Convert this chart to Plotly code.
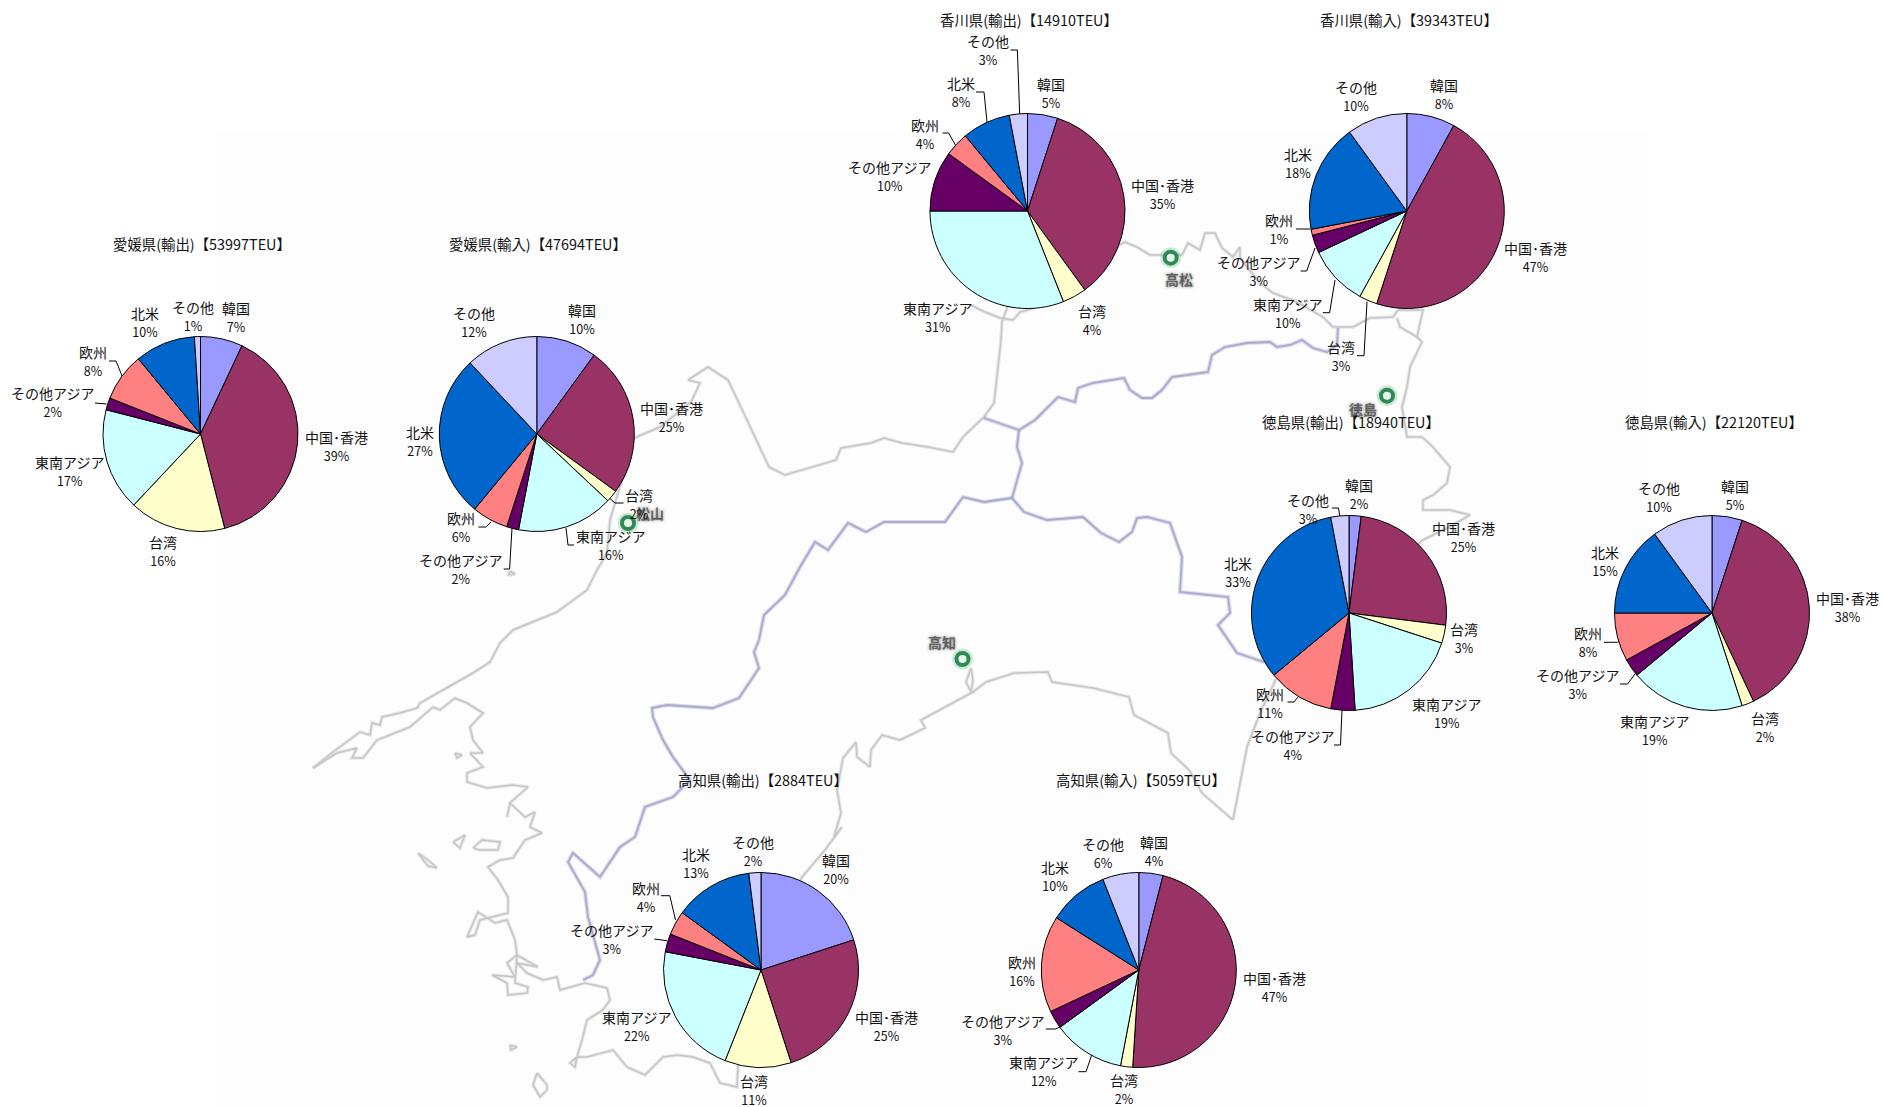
import plotly.graph_objects as go

W, H = 1885, 1107

# 主要貿易相手地域（時計回り、12時の位置から）
categories = ["韓国", "中国･香港", "台湾", "東南アジア", "その他アジア", "欧州", "北米", "その他"]
slice_colors = ["#9999FF", "#993366", "#FFFFCC", "#CCFFFF", "#660066", "#FF8080", "#0066CC", "#CCCCFF"]

# 構成比（%）
ehime_export = [7, 39, 16, 17, 2, 8, 10, 1]
ehime_import = [10, 25, 2, 16, 2, 6, 27, 12]
kagawa_export = [5, 35, 4, 31, 10, 4, 8, 3]
kagawa_import = [8, 47, 3, 10, 3, 1, 18, 10]
tokushima_export = [2, 25, 3, 19, 4, 11, 33, 3]
tokushima_import = [5, 38, 2, 19, 3, 8, 15, 10]
kochi_export = [20, 25, 11, 22, 3, 4, 13, 2]
kochi_import = [4, 47, 2, 12, 3, 16, 10, 6]

PIE_RADIUS = 97.5

# 円グラフごとの配置：表題、中心、各ラベルの中心、引出し線
panels = [
    dict(title="愛媛県(輸出)【53997TEU】", values=ehime_export, center=(200.5, 434), title_pos=(202.2, 243),
         labels=[(235.5, 316.5), (336.5, 446), (163, 551), (69, 471), (52, 402), (92.7, 361), (145, 322), (193, 316)],
         leaders=[[(109, 361), (116, 361), (122.5, 377)], [(95, 403), (106.5, 404)]]),
    dict(title="愛媛県(輸入)【47694TEU】", values=ehime_import, center=(536.8, 434), title_pos=(538.3, 243),
         labels=[(581.7, 319), (671.7, 417), (639, 504), (610.6, 545), (460.5, 569), (461, 527), (419.6, 441), (473.8, 322)],
         leaders=[[(623.5, 503), (615, 503), (607, 496)], [(574, 545), (568, 545), (566, 528)],
                  [(503.7, 569), (509.6, 569), (512, 528)], [(478.4, 527), (485.8, 527), (491, 522)]]),
    dict(title="香川県(輸出)【14910TEU】", values=kagawa_export, center=(1027.5, 211), title_pos=(1029.1, 19.7),
         labels=[(1050.5, 93), (1162.5, 194), (1092, 320), (937.5, 317), (889, 176), (925, 134), (960.5, 92), (987.6, 50)],
         leaders=[[(942.6, 133), (948.6, 133), (955.4, 145)], [(976, 92), (984, 92), (987, 122)],
                  [(1010.5, 50), (1017.4, 50), (1019.7, 115)]]),
    dict(title="香川県(輸入)【39343TEU】", values=kagawa_import, center=(1406.8, 211), title_pos=(1408.5, 19.7),
         labels=[(1444.4, 94), (1535, 257), (1341, 356), (1287.4, 313), (1258.5, 271), (1279, 229), (1298.4, 163), (1355.8, 96)],
         leaders=[[(1296, 229), (1310, 229)], [(1300.7, 271), (1306.7, 271), (1315, 248)],
                  [(1322.8, 312.7), (1329.6, 312.7), (1335, 280)], [(1357, 355.7), (1364, 355.7), (1367, 301.7)]]),
    dict(title="徳島県(輸出)【18940TEU】", values=tokushima_export, center=(1349, 613), title_pos=(1350.5, 421.7),
         labels=[(1358.5, 494), (1463.5, 537), (1463.5, 638), (1446, 713), (1292, 745), (1270, 703), (1238, 572), (1307.5, 509)],
         leaders=[[(1287.5, 702), (1294, 702), (1298, 697)], [(1334, 745), (1340.5, 745), (1342, 710)],
                  [(1332, 508), (1338.5, 508), (1340, 518)]]),
    dict(title="徳島県(輸入)【22120TEU】", values=tokushima_import, center=(1712, 613), title_pos=(1714.4, 421.7),
         labels=[(1735, 494.7), (1847.5, 607), (1765, 727), (1654.5, 730), (1577.5, 684), (1587.5, 642), (1605, 561), (1658.5, 497)],
         leaders=[[(1604, 642.3), (1617.5, 642.3), (1622, 638)], [(1620, 684), (1627.5, 684), (1635, 674)]]),
    dict(title="高知県(輸出)【2884TEU】", values=kochi_export, center=(761, 970), title_pos=(763, 779),
         labels=[(835.7, 869), (886.8, 1026), (753.6, 1089.5), (636, 1026), (611.8, 939), (645.7, 897), (695.6, 863), (752.5, 851)],
         leaders=[[(661, 895.7), (669.8, 895.7), (675.5, 920)], [(654.3, 939), (667, 940.7)]]),
    dict(title="高知県(輸入)【5059TEU】", values=kochi_import, center=(1138.8, 970), title_pos=(1140.5, 779),
         labels=[(1153.7, 851), (1274.5, 987), (1124, 1089), (1043.5, 1071), (1002.8, 1030), (1021.7, 970.7), (1055, 876), (1102.6, 853)],
         leaders=[[(1045.8, 1029), (1055.6, 1029), (1062, 1026)], [(1078.5, 1071.7), (1086, 1071.7), (1091.7, 1055)]]),
]

# 四国の海岸線
north_coast = [
    (313, 768), (333, 752), (360, 732), (370, 735), (372, 723), (380, 725), (382, 717), (400, 713), (417, 708),
    (420, 703), (443, 690), (473, 673), (490, 662), (500, 643), (513, 630), (557, 612), (587, 590), (597, 570),
    (607, 553), (610, 520), (634, 438), (660, 427), (691, 402), (700, 383), (688, 380), (708, 367), (728, 380),
    (741, 407), (769, 467), (785, 475), (836, 460), (841, 448), (871, 443), (884, 438), (902, 443), (928, 447),
    (953, 452), (963, 437), (984, 417), (994, 403), (1001, 340), (1002, 322), (1010, 300), (1125, 242), (1137, 247),
    (1150, 255), (1162, 255), (1182, 255), (1188, 243), (1200, 250), (1205, 233), (1215, 233), (1222, 248),
    (1233, 257), (1240, 247), (1240, 257), (1247, 267), (1260, 283), (1273, 293), (1297, 302), (1323, 317),
    (1333, 327), (1353, 327), (1370, 318), (1393, 317), (1398, 310), (1423, 310), (1417, 337), (1400, 327), (1397, 318),
]
sanuki_inlet = [(971, 305), (985, 312), (1000, 318), (1013, 320), (1020, 312), (1035, 308)]
east_coast = [
    (1417, 337), (1422, 342), (1410, 367), (1407, 387), (1402, 407), (1407, 437), (1422, 437), (1433, 447),
    (1450, 467), (1447, 483), (1433, 495), (1423, 500), (1423, 510), (1450, 510), (1470, 515), (1453, 525),
    (1423, 540), (1300, 640), (1277, 677), (1260, 713), (1247, 747), (1233, 820),
]
south_coast = [
    (1233, 820), (1202, 793), (1189, 770), (1171, 753), (1168, 733), (1134, 715), (1129, 697), (1093, 688),
    (1052, 682), (1048, 672), (1014, 673), (986, 682), (973, 692), (921, 720), (925, 728), (900, 740), (882, 735),
    (871, 750), (870, 767), (857, 757), (856, 742), (843, 758), (837, 790), (841, 813), (834, 837), (842, 827),
    (825, 850), (802, 877), (760, 960), (738, 1067), (737, 1087), (720, 1083), (710, 1063), (693, 1057), (677, 1055),
    (663, 1057), (645, 1075), (627, 1067), (613, 1050), (587, 1057), (577, 1057), (575, 1067), (570, 1063),
    (577, 1057), (582, 1040), (587, 1020), (603, 1010), (610, 1000), (607, 988), (585, 983), (560, 990), (557, 977),
    (543, 980), (527, 973), (517, 963), (538, 967), (517, 955), (507, 963), (515, 977), (492, 975), (507, 983),
    (508, 995), (527, 993), (528, 987), (515, 983), (517, 955), (515, 940), (507, 920), (495, 923), (478, 912),
    (467, 937), (475, 935), (480, 920), (508, 913), (508, 897), (498, 880), (488, 867), (500, 860), (513, 858),
    (525, 840), (542, 833), (530, 827), (535, 812), (525, 817), (510, 803), (507, 817), (510, 803), (528, 787),
    (513, 785), (487, 788), (467, 782), (467, 773), (483, 767), (470, 753), (483, 753), (473, 740), (470, 727),
    (483, 713), (467, 703), (455, 698), (440, 710), (433, 707), (410, 727), (377, 740), (363, 758), (352, 758),
    (357, 748), (337, 753), (313, 768),
]
kochi_river = [(971, 668), (966, 682), (971, 692), (973, 680), (971, 668)]
island_outlines = [
    [(537, 1073), (547, 1085), (547, 1090), (540, 1097), (533, 1085), (537, 1073)],
    [(418, 853), (428, 860), (437, 868), (428, 866), (418, 853)],
    [(453, 842), (465, 835), (460, 848), (453, 842)],
    [(473, 848), (482, 840), (500, 842), (498, 850), (480, 850), (473, 848)],
    [(510, 571), (515, 574), (508, 575), (510, 571)],
    [(455, 753), (462, 755), (457, 758), (455, 753)],
    [(510, 1045), (517, 1047), (511, 1050), (510, 1045)],
]

# 県境
border_north = [
    (1338, 328), (1337, 345), (1327, 352), (1313, 348), (1302, 340), (1290, 345), (1277, 347), (1270, 342),
    (1247, 343), (1225, 347), (1212, 355), (1208, 372), (1187, 375), (1172, 377), (1162, 390), (1152, 398),
    (1142, 398), (1130, 390), (1124, 378), (1093, 383), (1078, 388), (1075, 402), (1058, 397), (1035, 420),
    (1019, 430), (1002, 424), (984, 418),
]
border_center = [(1019, 430), (1017, 447), (1022, 463), (1017, 480), (1012, 498)]
border_east = [
    (1012, 498), (1024, 512), (1047, 520), (1083, 517), (1101, 533), (1119, 542), (1132, 532), (1137, 518),
    (1147, 517), (1170, 523), (1182, 557), (1180, 592), (1228, 597), (1230, 613), (1218, 625), (1237, 653), (1264, 662),
]
border_west = [
    (1012, 498), (984, 502), (963, 497), (945, 522), (902, 522), (884, 522), (866, 532), (848, 523), (828, 550),
    (815, 542), (800, 567), (785, 595), (764, 615), (759, 640), (754, 652), (759, 668), (739, 698), (713, 708),
    (667, 705), (652, 708), (653, 717), (663, 740), (673, 757), (690, 780), (673, 797), (645, 807), (635, 837),
    (620, 847), (600, 877), (573, 853), (568, 862), (585, 892), (588, 917), (600, 960), (593, 975), (583, 980),
]

# 県庁所在地
city_names = ["高松", "徳島", "高知", "松山"]
city_points = [(1170.7, 257.7), (1387, 395.7), (962.5, 659), (628, 523)]
city_label_points = [(1179, 279), (1363, 409), (942, 642), (649.5, 513)]

LABEL_FONT = "Noto Sans CJK JP, sans-serif"


def add_path(fig, points, color, width):
    fig.add_trace(go.Scatter(
        x=[p[0] for p in points], y=[p[1] for p in points], mode="lines",
        line=dict(color=color, width=width, shape="linear"), hoverinfo="skip", showlegend=False,
    ))


fig = go.Figure()

# 白地図：にじんだ線の上に芯の線を重ねる
for path in [north_coast, sanuki_inlet, east_coast, south_coast, kochi_river] + island_outlines:
    add_path(fig, path, "rgba(205,205,205,0.45)", 3.6)
    add_path(fig, path, "#c6c6c6", 1.5)
for path in [border_north, border_center, border_east, border_west]:
    add_path(fig, path, "rgba(175,175,220,0.45)", 4.2)
    add_path(fig, path, "#aaaacc", 1.8)

# 都市の丸印
fig.add_trace(go.Scatter(
    x=[p[0] for p in city_points], y=[p[1] for p in city_points], mode="markers",
    marker=dict(size=21, color="rgba(90,190,120,0.30)"), hoverinfo="skip", showlegend=False,
))
fig.add_trace(go.Scatter(
    x=[p[0] for p in city_points], y=[p[1] for p in city_points], mode="markers",
    marker=dict(size=12, color="#e8f6ec", line=dict(color="#2f8a55", width=4)), hoverinfo="skip", showlegend=False,
))

annotations = []
for name, (x, y) in zip(city_names, city_label_points):
    annotations.append(dict(
        x=x, y=y, xref="x", yref="y", text=name, showarrow=False,
        font=dict(family="Noto Sans CJK JP", size=14, weight="bold", color="rgba(60,60,60,0.7)", shadow="0 0 3px #444"),
    ))

for panel in panels:
    cx, cy = panel["center"]
    fig.add_trace(go.Pie(
        values=panel["values"], labels=categories, sort=False, direction="clockwise", rotation=0,
        marker=dict(colors=slice_colors, line=dict(color="#000000", width=1)),
        textinfo="none", hoverinfo="label+percent", showlegend=False,
        domain=dict(
            x=[(cx - PIE_RADIUS) / W, (cx + PIE_RADIUS) / W],
            y=[1 - (cy + PIE_RADIUS) / H, 1 - (cy - PIE_RADIUS) / H],
        ),
    ))
    for leader in panel["leaders"]:
        add_path(fig, leader, "#000000", 1)
    tx, ty = panel["title_pos"]
    annotations.append(dict(
        x=tx, y=ty, xref="x", yref="y", text=panel["title"], showarrow=False,
        font=dict(family=LABEL_FONT, size=14.4, color="#111111"),
    ))
    for name, value, (lx, ly) in zip(categories, panel["values"], panel["labels"]):
        annotations.append(dict(
            x=lx, y=ly, xref="x", yref="y", showarrow=False, align="center",
            text=f'{name}<br><span style="font-size:12.5px">{value}%</span>',
            font=dict(family=LABEL_FONT, size=14, color="#111111"),
        ))

fig.update_layout(
    width=W, height=H, margin=dict(l=0, r=0, t=0, b=0),
    paper_bgcolor="#FFFFFF", plot_bgcolor="rgba(0,0,0,0)", showlegend=False,
    xaxis=dict(range=[0, W], visible=False, fixedrange=True),
    yaxis=dict(range=[H, 0], visible=False, fixedrange=True),
    annotations=annotations,
    shapes=[dict(type="rect", xref="x", yref="y", x0=216, x1=1650, y0=131, y1=H,
                 fillcolor="#FDFDFD", line=dict(width=0), layer="below")],
)

fig.write_html("out.html", config=dict(displayModeBar=False))
